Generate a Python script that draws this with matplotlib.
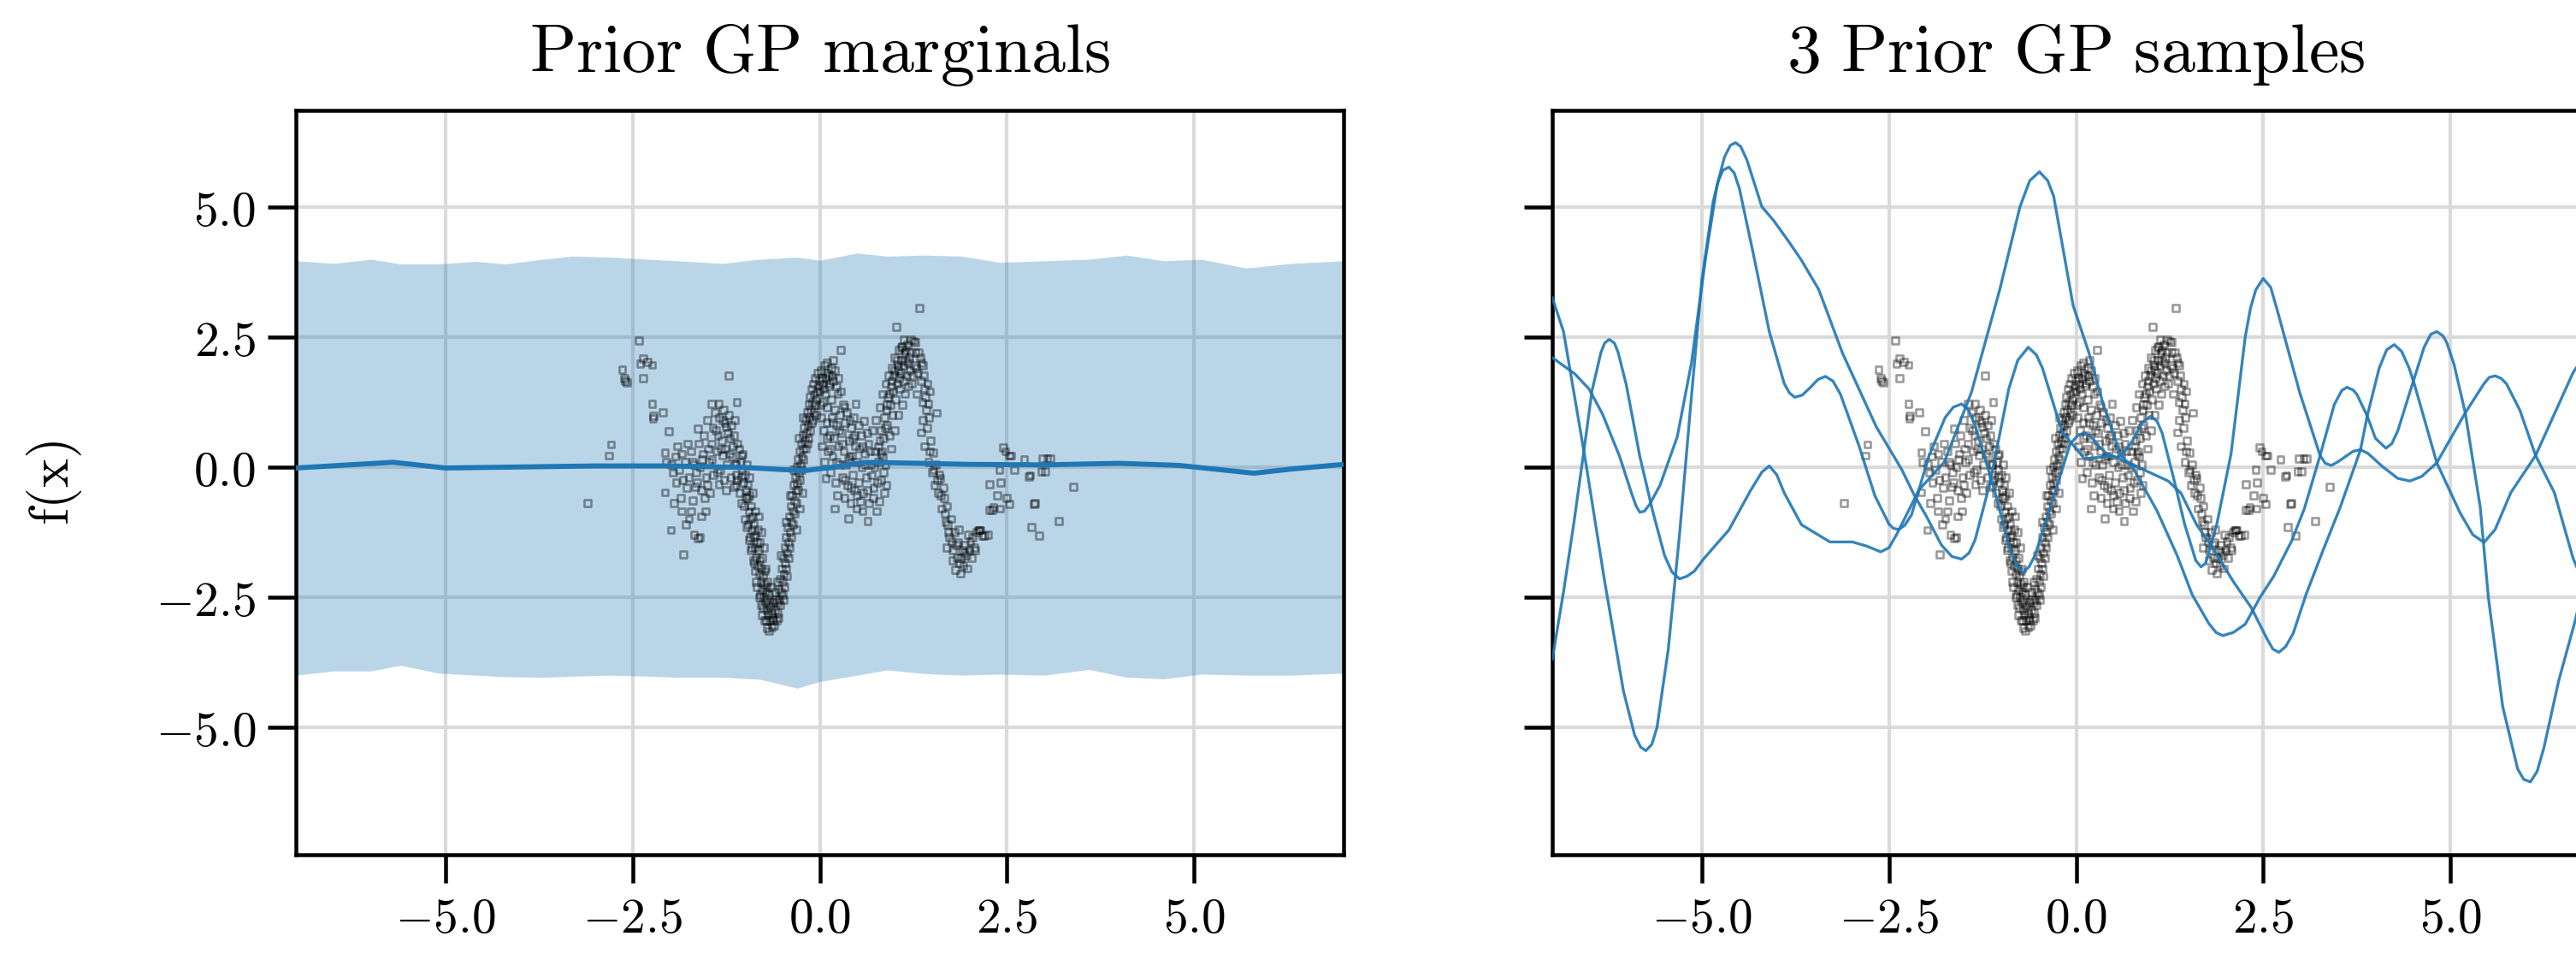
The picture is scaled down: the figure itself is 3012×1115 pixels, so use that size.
import numpy as np
import matplotlib
matplotlib.use("Agg")
import matplotlib.pyplot as plt
from matplotlib.ticker import FuncFormatter

plt.rcParams['mathtext.fontset'] = 'cm'
plt.rcParams['font.family'] = 'serif'

#### Dados ####
# faixa da prior (media +- 2 desvios)
band_x = [-7.0, -6.5, -6.0, -5.6, -5.1, -4.6, -4.2, -3.7, -3.3, -2.8, -2.3, -1.9, -1.3, -0.8, -0.3,
          0.0, 0.5, 0.9, 1.4, 1.9, 2.4, 3.0, 3.6, 4.1, 4.6, 5.1, 5.7, 6.3, 7.0]
band_upper = [3.96, 3.91, 3.99, 3.90, 3.90, 3.95, 3.90, 3.99, 4.05, 4.03, 3.99, 3.96, 3.91, 3.99, 4.03,
              3.97, 4.11, 4.05, 4.07, 4.05, 3.93, 3.96, 3.99, 4.07, 3.96, 3.99, 3.82, 3.91, 3.96]
band_lower = [-4.00, -3.92, -3.92, -3.81, -3.96, -4.00, -4.03, -4.04, -4.02, -4.00, -4.02, -4.04, -4.04, -4.08, -4.25,
              -4.12, -4.00, -3.90, -3.97, -4.00, -3.98, -4.00, -3.89, -4.04, -4.07, -3.98, -4.00, -4.00, -3.96]

mean_x = [-7.0, -6.3, -5.7, -5.0, -4.0, -3.0, -2.0, -1.0, -0.5, -0.2, 0.2, 0.6, 1.0, 2.0, 3.0, 4.0, 4.8,
          5.4, 5.8, 6.3, 7.0]
mean_y = [-0.02, 0.04, 0.09, -0.02, 0.0, 0.02, 0.02, -0.01, -0.05, -0.07, 0.0, 0.09, 0.08, 0.05, 0.04, 0.07,
          0.03, -0.06, -0.12, -0.04, 0.05]

# amostras da prior
s1_x = [-7.0, -6.85, -6.56, -6.3, -6.05, -5.9, -5.82, -5.75, -5.67, -5.6, -5.45, -5.3, -5.15, -5.0, -4.85,
        -4.78, -4.72, -4.64, -4.57, -4.5, -4.3, -4.1, -3.9, -3.83, -3.76, -3.66, -3.55, -3.45, -3.35, -3.25,
        -3.15, -2.9, -2.69, -2.5, -2.44, -2.37, -2.29, -2.2, -1.97, -1.75, -1.64, -1.53, -1.44, -1.35, -1.1,
        -0.9, -0.8, -0.71, -0.63, -0.55, -0.35, -0.08, 0.02, 0.11, 0.2, 0.3, 0.42, 0.55, 0.65, 0.75, 0.88,
        1.0, 1.08, 1.15, 1.3, 1.45, 1.6, 1.67, 1.73, 1.77, 1.88, 2.07, 2.26, 2.33, 2.4, 2.5, 2.6, 2.69, 2.99,
        3.26, 3.33, 3.41, 3.5, 3.6, 3.7, 3.8, 3.9, 4.1, 4.3, 4.46, 4.62, 4.82, 5.2, 5.45, 5.52, 5.6, 5.68,
        5.75, 5.93, 6.14, 6.39, 6.64, 7.0]
s1_y = [3.25, 2.6, 0.15, -2.2, -4.3, -5.15, -5.38, -5.45, -5.33, -5.0, -3.5, -1.3, 1.2, 3.6, 5.1,
        5.5, 5.7, 5.76, 5.65, 5.35, 4.0, 2.6, 1.6, 1.42, 1.34, 1.38, 1.53, 1.68, 1.74, 1.65,
        1.4, 0.4, -0.55, -1.1, -1.18, -1.2, -1.12, -0.92, 0.2, 0.95, 1.15, 1.21, 1.1, 0.8, -0.4,
        -1.5, -1.9, -2.03, -1.92, -1.7, -0.8, 0.44, 0.6, 0.66, 0.58, 0.4, 0.24, 0.18, 0.3, 0.5, 0.85,
        0.98, 0.88, 0.65, -0.2, -1.1, -1.8, -1.92, -1.85, -1.66, -1.1, 0.25, 2.5, 3.05, 3.4, 3.62, 3.45, 3.0, 1.42,
        0.22, 0.07, 0.03, 0.1, 0.2, 0.3, 0.33, 0.26, 0.0, -0.22, -0.27, -0.18, 0.08, 1.04, 1.6, 1.72, 1.75, 1.7,
        1.6, 1.09, 0.22, -0.49, -1.75, -3.0]

s2_x = [-7.0, -6.7, -6.51, -6.33, -6.1, -5.94, -5.88, -5.83, -5.77, -5.7, -5.56, -5.33, -5.14, -4.95, -4.8,
        -4.7, -4.62, -4.55, -4.48, -4.4, -4.2, -4.04, -3.85, -3.67, -3.44, -3.12, -2.67, -2.33, -2.16, -2.0,
        -1.8, -1.66, -1.53, -1.43, -1.35, -1.15, -0.9, -0.78, -0.64, -0.53, -0.45, -0.19, 0.11, 0.49, 0.87,
        1.23, 1.4, 1.61, 1.8, 2.1, 2.34, 2.55, 2.63, 2.71, 2.8, 2.9, 3.07, 3.3, 3.53, 3.8, 3.89, 4.05, 4.15,
        4.25, 4.35, 4.45, 4.52, 4.82, 5.13, 5.3, 5.45, 5.6, 5.81, 6.14, 6.64, 7.0]
s2_y = [2.1, 1.79, 1.5, 1.02, 0.2, -0.51, -0.75, -0.87, -0.85, -0.72, -0.35, 0.58, 2.0, 4.03, 5.4,
        5.95, 6.18, 6.23, 6.15, 5.9, 5.0, 4.73, 4.35, 3.97, 3.41, 2.18, 0.77, -0.05, -0.55, -0.95,
        -1.5, -1.72, -1.77, -1.65, -1.4, -0.3, 1.5, 2.05, 2.3, 2.15, 1.9, 0.68, 0.16, 0.21, -0.03,
        -0.27, -0.5, -1.11, -1.5, -2.2, -2.7, -3.3, -3.5, -3.56, -3.45, -3.2, -2.46, -1.6, -0.77, 0.33, 0.98,
        1.9, 2.25, 2.35, 2.22, 1.9, 1.59, 0.08, -0.88, -1.3, -1.45, -1.2, -0.49, 0.22, 1.81, 2.6]

s3_x = [-7.0, -6.85, -6.71, -6.55, -6.47, -6.35, -6.3, -6.24, -6.17, -6.12, -6.01, -5.83, -5.66, -5.5, -5.4,
        -5.3, -5.2, -5.1, -4.98, -4.64, -4.35, -4.2, -4.1, -4.0, -3.9, -3.67, -3.29, -2.99, -2.8, -2.61,
        -2.5, -2.4, -2.1, -1.76, -1.4, -1.02, -0.75, -0.62, -0.49, -0.38, -0.3, -0.04, 0.17, 0.36, 0.59,
        0.78, 1.08, 1.35, 1.55, 1.77, 1.87, 1.96, 2.1, 2.26, 2.46, 2.64, 2.88, 3.05, 3.26, 3.45, 3.55, 3.62,
        3.7, 3.75, 3.89, 4.0, 4.14, 4.22, 4.3, 4.48, 4.65, 4.74, 4.82, 4.9, 4.95, 5.05, 5.2, 5.4, 5.51, 5.7,
        5.9, 5.98, 6.07, 6.16, 6.25, 6.45, 6.66, 7.0]
s3_y = [-3.69, -2.4, -1.06, 0.6, 1.46, 2.2, 2.38, 2.45, 2.38, 2.2, 1.57, 0.2, -0.84, -1.7, -2.02,
        -2.15, -2.1, -2.0, -1.77, -1.21, -0.45, -0.1, 0.02, -0.15, -0.5, -1.11, -1.44, -1.44, -1.52, -1.63,
        -1.55, -1.3, -0.44, 0.1, 1.43, 3.41, 5.0, 5.5, 5.67, 5.5, 5.2, 3.1, 2.2, 1.21, 0.25,
        -0.07, -0.84, -1.7, -2.45, -3.0, -3.18, -3.24, -3.18, -3.02, -2.5, -2.1, -1.42, -0.8, 0.22, 1.2, 1.47, 1.53,
        1.48, 1.4, 0.98, 0.55, 0.36, 0.45, 0.7, 1.53, 2.3, 2.55, 2.6, 2.52, 2.4, 1.97, 1.04, -0.77, -2.52, -4.6,
        -5.8, -6.0, -6.05, -5.85, -5.4, -4.1, -3.0, -1.0]

# pontos observados (primeira leitura)
obs_x = [-3.10, -2.82, -2.79, -2.64, -2.60, -2.58, -2.61, -2.42, -2.36, -2.24, -2.40, -2.36, -2.30, -2.24, -2.10,
         -2.23, -2.22,
         -2.02, -2.07, -1.96, -2.07, -1.99, -1.82, -1.86, -1.79, -1.63, -1.60, -1.53, -1.66, -1.63, -1.45,
         -1.35, -1.22, -1.11, -1.25, -1.05, -1.35, -1.15, -1.30, -1.98, -1.92, -1.90, -1.88, -1.85, -1.80,
         -1.78, -1.75, -1.72, -1.70, -1.68, -1.65, -1.62, -1.60, -1.58, -1.56, -1.55, -1.52, -1.50, -1.48,
         -1.47, -1.45, -1.43, -1.42, -1.40, -1.38, -1.36, -1.34, -1.33, -1.31, -1.29, -1.28, -1.27, -1.26,
         -1.24, -1.22, -1.20, -1.19, -1.18, -1.17, -1.15, -1.13, -1.12, -1.10, -1.95, -1.85, -1.75, -1.72,
         -1.68, -1.58, -1.50,
         -1.08, -1.06, -1.04, -1.03, -1.02, -1.00, -0.99, -0.98, -0.97, -0.96, -0.95, -0.94, -0.93, -0.92,
         -0.91, -0.90, -0.89, -0.88, -0.87, -0.86, -0.85, -0.84, -0.83, -0.82, -0.81, -0.80, -0.79, -0.78,
         -0.77, -0.76, -0.75, -0.74, -0.73, -0.72, -0.71, -0.70, -0.69, -0.68, -0.67, -0.66, -0.64, -0.65,
         -0.63, -0.62, -0.60, -1.00, -0.95, -0.92, -0.88, -0.85, -0.80, -0.76, -0.72, -1.05, -0.98, -0.82,
         -0.78, -0.75, -0.72, -0.70,
         -0.58, -0.57, -0.56, -0.55, -0.54, -0.53, -0.52, -0.51, -0.50, -0.49, -0.48, -0.47, -0.46, -0.45,
         -0.44, -0.43, -0.42, -0.41, -0.40, -0.39, -0.38, -0.37, -0.36, -0.35, -0.34, -0.33, -0.32, -0.31,
         -0.30, -0.29, -0.28, -0.27, -0.26, -0.25, -0.24, -0.23, -0.22, -0.21, -0.20, -0.19, -0.18, -0.17,
         -0.16, -0.15, -0.14, -0.13, -0.12, -0.11, -0.10, -0.09, -0.08, -0.06, -0.05, -0.03, -0.02, 0.00,
         0.02, 0.04, 0.06, 0.08, 0.10, 0.12, 0.15, 0.18, -0.60, -0.52, -0.45, -0.40, -0.35, -0.28, -0.22,
         -0.15, -0.10, -0.05, -0.48, -0.44,
         0.02, 0.03, 0.04, 0.05, 0.06, 0.07, 0.08, 0.09, 0.10, 0.11, 0.12, 0.13, 0.14, 0.15, 0.16, 0.17,
         0.18, 0.19, 0.20, 0.21, 0.22, 0.23, 0.24, 0.25, 0.26, 0.27, 0.28, 0.29, 0.30, 0.31, 0.32, 0.33,
         0.34, 0.35, 0.36, 0.37, 0.38, 0.39, 0.40, 0.41, 0.42, 0.43, 0.44, 0.45, 0.46, 0.47, 0.48, 0.49,
         0.50, 0.52, 0.54, 0.55, 0.56, 0.58, 0.59, 0.60, 0.62, 0.64, 0.65, 0.66, 0.68, 0.69, 0.70, 0.72,
         0.74, 0.76, 0.78, 0.79, 0.80, 0.82, 0.84, 0.86, 0.88,
         0.75, 0.78, 0.80, 0.82, 0.84, 0.85, 0.86, 0.88, 0.89, 0.90, 0.91, 0.92, 0.93, 0.94, 0.95, 0.96,
         0.97, 0.98, 0.99, 1.00, 1.01, 1.02, 1.03, 1.04, 1.05, 1.06, 1.07, 1.08, 1.09, 1.10, 1.11, 1.12,
         1.13, 1.14, 1.15, 1.16, 1.17, 1.18, 1.19, 1.20, 1.22, 1.23, 1.25, 1.26, 1.28, 1.30, 1.31, 1.33,
         1.34, 1.35, 1.37, 1.38, 1.40, 1.42, 1.45, 1.47, 1.05, 1.00, 0.95, 1.10,
         1.35, 1.38, 1.40, 1.43, 1.45, 1.48, 1.50, 1.51, 1.53, 1.55, 1.56, 1.58, 1.60, 1.61, 1.63, 1.65,
         1.66, 1.68, 1.70, 1.71, 1.73, 1.75, 1.76, 1.78, 1.80, 1.81, 1.83, 1.85, 1.87, 1.90, 1.92, 1.94,
         1.96, 1.98, 2.01, 2.03, 2.06, 2.09, 2.12, 2.14, 2.17, 1.88, 1.70,
         2.27, 2.30, 2.32, 2.27, 2.37, 2.45, 2.48, 2.53, 2.73, 2.81, 2.53, 2.86, 2.83, 2.93, 3.04, 3.01,
         3.19, 3.39, 2.40, 2.42, 2.20, 2.25, 2.60, 2.50, 2.41, 2.55, 2.98, 3.08, 2.96, 2.79, 2.87, 2.13]
obs_y = [-0.70, 0.22, 0.43, 1.87, 1.65, 1.62, 1.70, 2.43, 2.08, 1.96, 1.98, 1.70, 2.02, 1.21, 1.05,
         0.93, 0.98,
         0.69, 0.27, -0.11, -0.49, -1.21, -1.68, -0.60, -1.10, -1.37, -1.35, -0.85, -0.38, 0.74, 1.21,
         1.21, 1.76, 1.25, 0.77, 0.22, -0.33, -0.38, 0.22, 0.05, -0.30, 0.40, -0.05, -0.85, 0.10,
         -0.40, -0.20, 0.30, -0.65, 0.05, -0.10, 0.45, 0.00, -0.45, 0.25, 0.60, -0.20, 0.90, 0.10,
         -0.50, 0.45, 0.75, -0.15, 1.05, 0.30, 0.60, 0.95, -0.05, 0.50, 1.10, -0.25, 0.85, 0.35,
         0.05, 1.00, 0.55, -0.20, 0.80, 0.20, 0.60, 0.05, -0.15, 0.45, -0.70, 0.25, -1.00, -0.85,
         -1.30, -0.95, -0.35,
         0.35, 0.10, -0.05, 0.25, -0.30, -0.15, -0.45, 0.05, -0.60, -0.35, -0.85, -0.55, -1.00, -0.75,
         -1.20, -0.95, -1.35, -1.10, -1.55, -1.30, -1.75, -1.45, -1.90, -1.60, -2.05, -1.80, -2.20, -1.95,
         -2.35, -2.10, -2.50, -2.25, -2.60, -2.40, -2.75, -2.55, -2.85, -2.65, -2.95, -2.70, -3.08, -2.80,
         -2.90, -2.60, -2.75, -1.00, -1.40, -1.60, -1.85, -2.20, -2.45, -2.70, -2.95, -0.70, -1.15, -0.95,
         -1.25, -1.55, -1.95, -2.20,
         -2.95, -2.60, -2.80, -2.35, -2.55, -2.15, -2.40, -1.95, -2.20, -1.75, -2.05, -1.55, -1.85, -1.35,
         -1.65, -1.15, -1.45, -0.95, -1.25, -0.75, -1.05, -0.55, -0.85, -0.35, -0.65, -0.20, -0.45, 0.00,
         -0.30, 0.15, -0.10, 0.30, 0.05, 0.45, 0.20, 0.60, 0.35, 0.75, 0.50, 0.90, 0.65, 1.05,
         0.80, 1.20, 0.95, 1.35, 1.10, 1.50, 1.25, 1.60, 1.40, 1.70, 1.30, 1.80, 1.55, 1.45,
         1.85, 1.60, 1.95, 1.70, 2.00, 1.75, 1.90, 2.05, -2.40, -1.70, -1.05, -0.55, -0.05, 0.55, 0.95,
         0.55, 0.90, 1.00, -2.55, -2.10,
         0.95, 0.40, 1.25, 0.70, 0.10, 1.40, -0.22, 0.85, 1.15, 0.30, 1.55, 0.60, -0.10, 1.30, 0.95, 0.20,
         1.65, 0.55, 1.10, -0.30, 0.80, -0.55, 1.40, 0.40, 0.05, 1.00, 2.25, 0.65, -0.20, 1.20, 0.30, -0.60,
         0.85, 0.05, 1.05, -0.35, -0.99, 0.50, 0.20, -0.70, 0.75, 0.22, -0.15, 0.95, -0.45, 0.40, 1.21, -0.80,
         0.10, -0.30, -0.66, 0.60, 0.00, -0.50, 0.88, 0.25, -0.20, -1.04, 0.45, -0.70, 0.05, -0.16, 0.70, -0.40,
         0.30, -0.85, 0.10, -0.66, 0.50, -0.25, 0.20, -0.50, 0.05,
         0.90, 0.40, 1.15, 0.70, 1.40, 0.55, 0.95, 1.60, 1.10, 0.80, 1.35, 1.75, 0.60, 1.20, 1.55, 1.90,
         1.00, 1.45, 1.75, 2.10, 1.30, 2.69, 1.60, 1.95, 1.87, 2.25, 1.50, 1.80, 2.05, 2.31, 1.65, 1.95,
         2.20, 1.40, 2.03, 1.75, 2.35, 1.55, 2.10, 1.85, 2.45, 1.60, 2.42, 1.95, 2.20, 1.40, 1.80, 3.05,
         2.10, 1.65, 1.25, 1.95, 1.50, 1.10, 1.21, 1.45, 1.00, 0.70, 0.35, 1.20,
         0.66, 0.90, 0.40, 0.75, 0.10, 0.50, -0.10, 0.27, -0.35, 0.05, 1.04, -0.50, -0.15, -0.22, -0.80, -0.40,
         -0.60, -1.05, -0.75, -1.10, -1.35, -1.00, -1.43, -1.60, -1.25, -1.98, -1.75, -1.45, -1.85, -1.60, -1.90, -1.50,
         -1.70, -1.30, -1.43, -1.75, -1.55, -1.25, -1.21, -1.21, -1.32, -2.05, -1.55,
         -0.82, -0.82, -0.77, -0.33, -0.55, 0.38, 0.30, 0.22, 0.14, -0.16, -0.71, -0.71, -1.15, -1.32, 0.16, -0.08,
         -1.04, -0.38, -0.05, -0.30, -1.32, -1.30, -0.05, -0.60, -0.80, 0.22, 0.16, 0.16, -0.08, -0.19, -0.69, -1.21]

# pontos observados (segunda leitura, regiões densas)
obs2_x = [-1.12, -1.10, -1.07, -1.05, -1.01, -0.99, -0.96, -0.93, -0.91, -0.89, -0.86, -0.84, -0.81, -0.79,
          -0.77, -0.74, -0.71, -0.68, -0.94, -0.90, -0.86, -0.83, -0.80, -0.77, -0.74, -0.71, -0.68, -0.66,
          -0.62, -0.61, -0.59, -0.57,
          -0.55, -0.53, -0.50, -0.47, -0.45, -0.42, -0.40, -0.38, -0.36, -0.34, -0.31, -0.29, -0.27, -0.24,
          -0.22, -0.19, -0.17, -0.13, -0.11, -0.08, -0.06, -0.04, -0.01, 0.01, 0.03, 0.05, 0.09, 0.13, 0.16,
          0.20, 0.22, 0.25, -0.31, -0.27, -0.23,
          0.10, 0.14, 0.18, 0.22, 0.26, 0.30, 0.34, 0.38, 0.42, 0.46, 0.50, 0.53, 0.57, 0.61, 0.63, 0.67,
          0.71, 0.73, 0.77, 0.81, 0.85, 0.89, 0.28, 0.33, 0.40, 0.44, 0.52, 0.57, 0.63, 0.20,
          0.83, 0.87, 0.90, 0.93, 0.96, 1.00, 1.03, 1.06, 1.09, 1.12, 1.15, 1.18, 1.21, 1.24, 1.27, 1.29,
          1.32, 1.36, 1.39, 1.41, 1.44, 1.46,
          1.47, 1.52, 1.57, 1.62, 1.67, 1.72, 1.77, 1.82, 1.86, 1.89, 1.93, 1.97, 2.00, 2.04, 2.08,
          -2.05, -1.93, -1.83, -1.77, -1.70, -1.64, -1.57, -1.54, -1.49, -1.44, -1.39, -1.37, -1.32, -1.30,
          -1.23, -1.21, -1.16, -1.14, -1.12, -1.25]
obs2_y = [0.05, -0.25, -0.50, -0.20, -0.75, -0.60, -1.10, -1.35, -1.55, -1.80, -2.00, -2.30, -2.50, -2.65,
          -2.85, -2.95, -3.10, -3.15, -0.20, -0.50, -0.85, -1.20, -1.45, -1.75, -2.00, -2.30, -2.45, -2.30,
          -2.95, -3.05, -2.55, -2.20,
          -2.90, -2.65, -2.45, -2.30, -1.95, -1.75, -1.55, -1.35, -1.10, -0.90, -0.70, -0.45, -0.25, -0.05,
          0.15, 0.35, 0.45, 0.70, 0.85, 1.05, 1.20, 1.45, 1.65, 1.20, 1.70, 1.50, 1.80, 1.60, 1.75,
          1.85, 1.55, 1.70, -1.20, -0.80, -0.50,
          0.55, 0.35, 0.85, 0.10, 0.70, 0.45, -0.25, 0.15, -0.40, 0.60, -0.55, 0.35, -0.85, 0.05, -0.45, 0.30,
          -0.60, 0.00, -0.30, 0.25, -0.10, -0.35, 1.45, 1.15, 0.90, 0.55, 0.80, 0.40, 0.65, -0.80,
          0.30, 0.75, 1.20, 1.40, 1.65, 1.85, 2.05, 1.70, 2.30, 2.45, 2.25, 2.00, 2.20, 1.75, 2.40, 1.90,
          2.20, 2.00, 1.75, 1.35, 1.60, 0.95,
          0.30, -0.05, -0.25, -0.55, -0.90, -1.25, -1.80, -1.50, -1.20, -1.75, -1.65, -1.95, -1.60, -1.35, -1.60,
          0.10, 0.20, -0.25, 0.45, 0.10, -0.30, 0.15, -0.60, 0.35, 0.15, 0.70, -0.10, 0.35, 0.90,
          0.65, 0.25, 0.40, 0.90, -0.35, -0.45]

ticks = [-5.0, -2.5, 0.0, 2.5, 5.0]
cor = '#1f77b4'

#### Geração do Gráfico ####
fig = plt.figure(figsize=(12.048, 4.46), dpi=250)
ax1 = fig.add_axes([0.1149, 0.1040, 0.4067, 0.7803])
ax2 = fig.add_axes([0.6026, 0.1040, 0.4067, 0.7803], sharey=ax1)

fmt = FuncFormatter(lambda v, p: r'$%.1f$' % v)
pts_x = obs_x + obs2_x
pts_y = obs_y + obs2_y

for ax in (ax1, ax2):
    ax.scatter(pts_x, pts_y, marker='s', s=5.0, facecolors='none', edgecolors='k',
               linewidths=0.75, alpha=0.4, zorder=3)
    ax.set_xlim(-7, 7)
    ax.set_ylim(-7.45, 6.85)
    ax.set_xticks(ticks)
    ax.set_yticks(ticks)
    ax.xaxis.set_major_formatter(fmt)
    ax.yaxis.set_major_formatter(fmt)
    ax.grid(True, color='#dadada', lw=1.2)
    ax.set_axisbelow(True)
    ax.tick_params(direction='out', length=9.5, width=1.3, labelsize=16.5, pad=4)
    for sp in ax.spines.values():
        sp.set_linewidth(1.3)

ax1.fill_between(band_x, band_lower, band_upper, color=cor, alpha=0.3, lw=0, zorder=2)
ax1.plot(mean_x, mean_y, color=cor, lw=1.7, zorder=4)
ax1.set_ylabel(r'$\mathrm{f(x)}$', fontsize=18.5, labelpad=24)
ax1.set_title(r'$\mathrm{Prior\ GP\ marginals}$', fontsize=23, pad=13)

for sx, sy in ((s1_x, s1_y), (s2_x, s2_y), (s3_x, s3_y)):
    ax2.plot(sx, sy, color=cor, lw=0.95, alpha=0.9, zorder=4)
ax2.tick_params(labelleft=False)
ax2.set_title(r'$\mathrm{3\ Prior\ GP\ samples}$', fontsize=23, pad=13)

fig.savefig('out.png', dpi=250)
plt.close(fig)
